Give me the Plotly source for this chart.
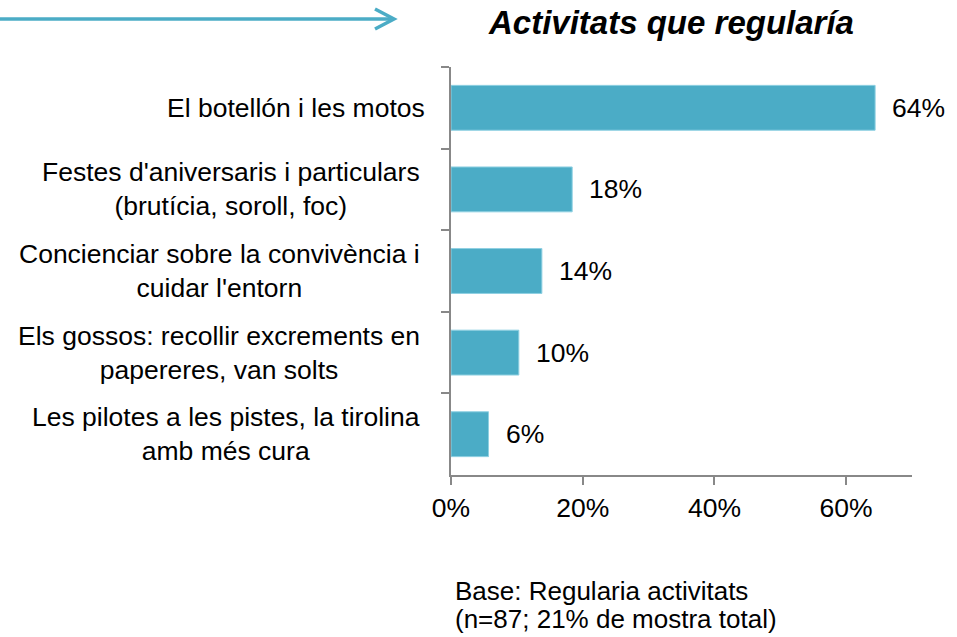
import plotly.graph_objects as go

categories = [
    "El botellón i les motos",
    "Festes d'aniversaris i particulars<br>(brutícia, soroll, foc)",
    "Concienciar sobre la convivència i<br>cuidar l'entorn",
    "Els gossos: recollir excrements en<br>papereres, van solts",
    "Les pilotes a les pistes, la tirolina<br>amb més cura",
]
values = [64.4, 18.4, 13.8, 10.3, 5.7]
tick_vals = [0, 20, 40, 60]
tick_text = ["0%", "20%", "40%", "60%"]
title_text = "Activitats que regularía"
base_lines = ["Base: Regularia activitats", "(n=87; 21% de mostra total)"]

W, H = 957, 637
L, R, T, B = 451, 912, 67, 475
BAR = "#4BACC6"
AX = "#888888"
FONT = "Liberation Sans, Arial, sans-serif"
FS = 26.5


def px(xp):
    return (xp - L) / (R - L)


def py(yp):
    return (B - yp) / (B - T)


fig = go.Figure()
fig.add_trace(go.Bar(
    x=values, y=categories, orientation="h",
    marker=dict(color=BAR, line=dict(color="#8fd0e2", width=1)),
    hoverinfo="skip",
))

annotations = []
for c, v in zip(categories, values):
    annotations.append(dict(
        x=v, y=c, xref="x", yref="y", text=f"{round(v)}%",
        xanchor="left", yanchor="middle", xshift=15, showarrow=False,
        font=dict(family=FONT, size=FS, color="#000000"),
    ))
    annotations.append(dict(
        x=0, y=c, xref="paper", yref="y", text=c, align="center",
        xanchor="right", yanchor="middle",
        xshift=-29 if "<br>" in c else -24, showarrow=False,
        font=dict(family=FONT, size=FS, color="#000000"),
    ))

annotations.append(dict(
    x=px(671), y=py(23), xref="paper", yref="paper", text=f"<b><i>{title_text}</i></b>",
    xanchor="center", yanchor="middle", showarrow=False,
    font=dict(family=FONT, size=33, color="#000000"),
))
for i, line in enumerate(base_lines):
    annotations.append(dict(
        x=px(453), y=py(591 + 27.5 * i), xref="paper", yref="paper", text=line,
        xanchor="left", yanchor="middle", showarrow=False,
        font=dict(family=FONT, size=26, color="#000000"),
    ))

shapes = [
    dict(type="line", xref="paper", yref="paper", x0=px(0), x1=px(393), y0=py(19), y1=py(19),
         line=dict(color=BAR, width=3.5)),
    dict(type="path", xref="paper", yref="paper",
         path=f"M {px(375)} {py(9)} L {px(394)} {py(19)} L {px(375)} {py(29)}",
         line=dict(color=BAR, width=3.5)),
]

fig.update_layout(
    width=W, height=H,
    margin=dict(l=L, r=W - R, t=T, b=H - B, pad=0),
    paper_bgcolor="white", plot_bgcolor="white",
    showlegend=False, bargap=0.45,
    font=dict(family=FONT, size=FS, color="#000000"),
    annotations=annotations, shapes=shapes,
    xaxis=dict(
        range=[0, 70], tickvals=tick_vals, ticktext=tick_text,
        showgrid=False, zeroline=False, showline=True, linecolor=AX, linewidth=1.5,
        ticks="outside", ticklen=8, tickcolor=AX, tickwidth=1.5,
        tickfont=dict(family=FONT, size=FS, color="#000000"),
    ),
    yaxis=dict(
        autorange="reversed", showticklabels=False, showgrid=False, zeroline=False,
        showline=True, linecolor=AX, linewidth=1.5,
        ticks="outside", ticklen=8, tickcolor=AX, tickwidth=1.5, tickson="boundaries",
    ),
)

fig.write_html(
    "out.html",
    config={"displayModeBar": False},
    post_script="document.body.style.margin='0';document.body.style.overflow='hidden';",
)
